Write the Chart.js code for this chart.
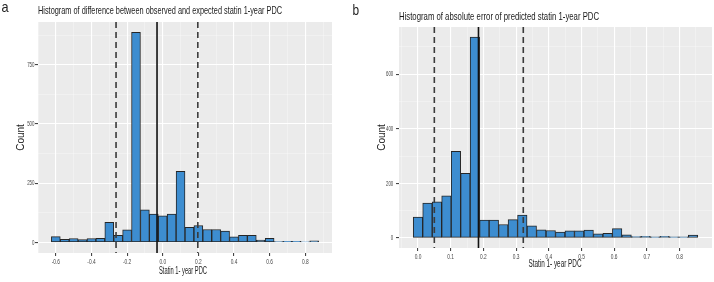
<!DOCTYPE html>
<html>
<head>
<meta charset="utf-8">
<script src="https://cdn.jsdelivr.net/npm/chart.js@4.4.1/dist/chart.umd.min.js"></script>
<style>
  body { margin: 0; background: #fff; width: 714px; height: 282px; position: relative; overflow: hidden; }
  canvas { position: absolute; top: 0; }
</style>
</head>
<body>
<canvas id="chartA" width="348" height="282" style="left:0"></canvas>
<canvas id="chartB" width="366" height="282" style="left:348px"></canvas>
<script>
// panel a: observed - expected
const binsA = [-0.60, -0.55, -0.50, -0.45, -0.40, -0.35, -0.30, -0.25, -0.20, -0.15,
               -0.10, -0.05, 0.00, 0.05, 0.10, 0.15, 0.20, 0.25, 0.30, 0.35,
               0.40, 0.45, 0.50, 0.55, 0.60, 0.65, 0.70, 0.75, 0.80, 0.85];
const countsA = [25, 14, 17, 13, 17, 18, 85, 31, 54, 886,
                 138, 120, 113, 120, 300, 64, 72, 55, 55, 48,
                 24, 30, 30, 11, 18, 4, 5, 5, 3, 7];
const xTicksA = [-0.6, -0.4, -0.2, 0.0, 0.2, 0.4, 0.6, 0.8];
const xMinorA = [-0.7, -0.5, -0.3, -0.1, 0.1, 0.3, 0.5, 0.7, 0.9];
const yTicksA = [0, 250, 500, 750];
const yMinorA = [125, 375, 625, 875];
const dashedA = [-0.262, 0.197];
const solidA = [-0.032];

// panel b: absolute error
const binsB = [0.000, 0.029, 0.058, 0.087, 0.116, 0.145, 0.174, 0.203, 0.232, 0.261,
               0.290, 0.319, 0.348, 0.377, 0.406, 0.435, 0.464, 0.493, 0.522, 0.551,
               0.580, 0.609, 0.638, 0.667, 0.696, 0.725, 0.754, 0.783, 0.812, 0.841];
const countsB = [76, 128, 132, 154, 317, 237, 736, 65, 65, 49,
                 67, 84, 44, 30, 27, 21, 26, 26, 29, 15,
                 17, 34, 11, 5, 6, 4, 6, 4, 4, 10];
const xTicksB = [0.0, 0.1, 0.2, 0.3, 0.4, 0.5, 0.6, 0.7, 0.8];
const xMinorB = [-0.05, 0.05, 0.15, 0.25, 0.35, 0.45, 0.55, 0.65, 0.75, 0.85];
const yTicksB = [0, 200, 400, 600];
const yMinorB = [100, 300, 500, 700];
const dashedB = [0.05, 0.322];
const solidB = [0.185];

const FONT = '"Liberation Sans", Arial, sans-serif';

function squish(ctx, text, x, y, size, color, sx, align, baseline) {
  ctx.save();
  ctx.font = size + 'px ' + FONT;
  ctx.fillStyle = color;
  ctx.textAlign = align;
  ctx.textBaseline = baseline;
  ctx.translate(x, y);
  ctx.scale(sx, 1);
  ctx.fillText(text, 0, 0);
  ctx.restore();
}

// squeeze text to a given width
function fitText(ctx, text, x, y, size, color, width, align) {
  ctx.save();
  ctx.font = size + 'px ' + FONT;
  const w = ctx.measureText(text).width;
  ctx.restore();
  squish(ctx, text, x, y, size, color, width / w, align, 'alphabetic');
}

function tickList(major, minor) {
  return major.map(v => ({ value: v, major: true }))
    .concat(minor.map(v => ({ value: v, major: false })))
    .sort((a, b) => a.value - b.value);
}

function makeHist(id, o) {
  const panel = {
    id: 'panel',
    beforeDraw(chart) {
      const a = chart.chartArea, c = chart.ctx;
      c.save();
      c.fillStyle = '#ebebeb';
      c.fillRect(a.left, a.top, a.right - a.left, a.bottom - a.top);
      c.restore();
    },
    afterDatasetsDraw(chart) {
      const a = chart.chartArea, c = chart.ctx, xs = chart.scales.x;
      c.save();
      c.lineWidth = 1.6;
      c.strokeStyle = '#3a3a3a';
      c.setLineDash([6, 4]);
      o.dashed.forEach(v => {
        const px = xs.getPixelForValue(v);
        c.beginPath(); c.moveTo(px, a.top); c.lineTo(px, a.bottom); c.stroke();
      });
      c.setLineDash([]);
      c.strokeStyle = '#111';
      o.solid.forEach(v => {
        const px = xs.getPixelForValue(v);
        c.beginPath(); c.moveTo(px, a.top); c.lineTo(px, a.bottom); c.stroke();
      });
      c.restore();
    },
    afterDraw(chart) {
      const c = chart.ctx, xs = chart.scales.x, ys = chart.scales.y, a = chart.chartArea;
      squish(c, o.letter, o.letterX, o.letterY, o.letterSize, '#222', 0.85, 'left', 'alphabetic');
      fitText(c, o.title, a.left, o.titleY, 11, '#1a1a1a', o.titleW, 'left');
      o.xTicks.forEach(v => {
        squish(c, v.toFixed(1), xs.getPixelForValue(v), o.xLabelY, 8, '#444', 0.6, 'center', 'alphabetic');
      });
      o.yTicks.forEach(v => {
        squish(c, String(v), o.yLabelX, ys.getPixelForValue(v), 8, '#444', 0.55, 'right', 'middle');
      });
      fitText(c, 'Statin 1- year PDC', o.xTitleX, o.xTitleY, 10, '#1a1a1a', o.xTitleW, 'center');
      c.save();
      c.translate(o.yTitleX, (a.top + a.bottom) / 2);
      c.rotate(-Math.PI / 2);
      c.font = '10px ' + FONT;
      c.fillStyle = '#1a1a1a';
      c.textAlign = 'center';
      c.textBaseline = 'middle';
      c.fillText('Count', 0, 0);
      c.restore();
    }
  };

  const gridColor = ctx => (ctx.tick && ctx.tick.major) ? '#ffffff' : 'rgba(255,255,255,0.6)';
  const gridWidth = ctx => (ctx.tick && ctx.tick.major) ? 1.1 : 0.5;
  const tickColor = ctx => (ctx.tick && ctx.tick.major) ? '#444' : 'rgba(0,0,0,0)';

  return new Chart(document.getElementById(id), {
    type: 'bar',
    data: {
      datasets: [{
        data: o.bins.map((b, i) => ({ x: b, y: o.counts[i] })),
        backgroundColor: '#3d8dd0',
        borderColor: '#262626',
        borderWidth: 1,
        borderSkipped: false,
        barPercentage: 1,
        categoryPercentage: 1
      }]
    },
    options: {
      responsive: false,
      animation: false,
      devicePixelRatio: 1,
      layout: { padding: { left: 0, right: o.padRight, top: o.top, bottom: 0 } },
      plugins: { legend: { display: false }, tooltip: { enabled: false } },
      scales: {
        x: {
          type: 'linear',
          min: o.xMin, max: o.xMax,
          offset: false,
          border: { display: false },
          grid: { offset: false, color: gridColor, lineWidth: gridWidth, tickLength: 3, tickColor: tickColor },
          ticks: { display: false },
          afterBuildTicks: s => { s.ticks = tickList(o.xTicks, o.xMinor); },
          afterFit: s => { s.height = o.xHeight; }
        },
        y: {
          min: o.yMin, max: o.yMax,
          border: { display: false },
          grid: { color: gridColor, lineWidth: gridWidth, tickLength: 3, tickColor: tickColor },
          ticks: { display: false },
          afterBuildTicks: s => { s.ticks = tickList(o.yTicks, o.yMinor); },
          afterFit: s => { s.width = o.yWidth; }
        }
      }
    },
    plugins: [panel]
  });
}

makeHist('chartA', {
  bins: binsA, counts: countsA, xTicks: xTicksA, xMinor: xMinorA, yTicks: yTicksA, yMinor: yMinorA,
  dashed: dashedA, solid: solidA,
  xMin: -0.7, xMax: 0.95, yMin: -44, yMax: 930,
  top: 22, padRight: 16, xHeight: 29, yWidth: 38,
  letter: 'a', letterX: 1.5, letterY: 12, letterSize: 15,
  title: 'Histogram of difference between observed and expected statin 1-year PDC', titleY: 14, titleW: 244,
  xLabelY: 264, yLabelX: 34.5, xTitleX: 183, xTitleY: 273.5, xTitleW: 48, yTitleX: 21
});

makeHist('chartB', {
  bins: binsB, counts: countsB, xTicks: xTicksB, xMinor: xMinorB, yTicks: yTicksB, yMinor: yMinorB,
  dashed: dashedB, solid: solidB,
  xMin: -0.058, xMax: 0.899, yMin: -37, yMax: 773,
  top: 27, padRight: 2, xHeight: 34, yWidth: 51,
  letter: 'b', letterX: 4.5, letterY: 15, letterSize: 14,
  title: 'Histogram of absolute error of predicted statin 1-year PDC', titleY: 19.5, titleW: 200,
  xLabelY: 258.5, yLabelX: 45.3, xTitleX: 207, xTitleY: 267, xTitleW: 53, yTitleX: 34
});
</script>
</body>
</html>
